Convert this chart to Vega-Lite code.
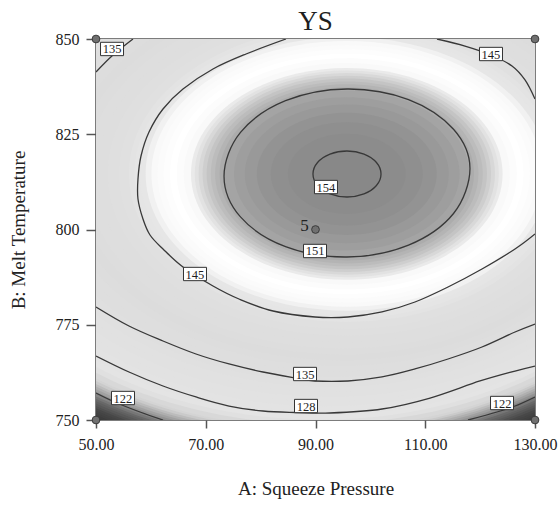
{
  "$schema": "https://vega.github.io/schema/vega-lite/v6.json",
  "width": 439,
  "height": 381,
  "autosize": {"type": "none"},
  "padding": {"left": 96, "top": 39, "right": 23, "bottom": 88},
  "background": "white",
  "config": {"view": {"stroke": "#7c7c7c", "strokeWidth": 2}, "font": "Liberation Serif"},
  "datasets": {
    "rings": [
      {"a": 90.3, "b": 814.6, "ys": 106},
      {"a": 90.3, "b": 814.6, "ys": 112},
      {"a": 90.3, "b": 814.6, "ys": 114},
      {"a": 90.3, "b": 814.6, "ys": 115},
      {"a": 90.3, "b": 814.6, "ys": 115.5},
      {"a": 90.3, "b": 814.6, "ys": 116},
      {"a": 90.3, "b": 814.6, "ys": 116.5},
      {"a": 90.3, "b": 814.6, "ys": 117},
      {"a": 90.3, "b": 814.6, "ys": 117.5},
      {"a": 90.3, "b": 814.6, "ys": 118},
      {"a": 90.3, "b": 814.6, "ys": 118.5},
      {"a": 90.3, "b": 814.6, "ys": 119},
      {"a": 90.3, "b": 814.6, "ys": 119.5},
      {"a": 90.3, "b": 814.6, "ys": 120},
      {"a": 90.3, "b": 814.6, "ys": 120.5},
      {"a": 90.3, "b": 814.6, "ys": 121},
      {"a": 90.3, "b": 814.6, "ys": 121.5},
      {"a": 90.3, "b": 814.6, "ys": 122},
      {"a": 90.4, "b": 814.6, "ys": 122.5},
      {"a": 90.4, "b": 814.6, "ys": 123},
      {"a": 90.5, "b": 814.6, "ys": 123.5},
      {"a": 90.5, "b": 814.6, "ys": 124},
      {"a": 90.6, "b": 814.6, "ys": 125},
      {"a": 90.8, "b": 814.6, "ys": 126},
      {"a": 91.0, "b": 814.6, "ys": 127},
      {"a": 91.2, "b": 814.6, "ys": 128},
      {"a": 91.5, "b": 814.6, "ys": 129},
      {"a": 91.9, "b": 814.6, "ys": 130},
      {"a": 92.2, "b": 814.6, "ys": 131},
      {"a": 92.6, "b": 814.6, "ys": 132},
      {"a": 92.9, "b": 814.6, "ys": 133},
      {"a": 93.2, "b": 814.6, "ys": 134},
      {"a": 93.5, "b": 814.6, "ys": 135},
      {"a": 93.8, "b": 814.6, "ys": 136},
      {"a": 94.2, "b": 814.6, "ys": 137},
      {"a": 94.5, "b": 814.6, "ys": 138},
      {"a": 94.8, "b": 814.6, "ys": 139},
      {"a": 95.0, "b": 814.6, "ys": 140},
      {"a": 95.3, "b": 814.6, "ys": 141},
      {"a": 95.5, "b": 814.6, "ys": 142},
      {"a": 95.7, "b": 814.6, "ys": 143},
      {"a": 95.7, "b": 814.6, "ys": 144},
      {"a": 95.7, "b": 814.6, "ys": 144.5},
      {"a": 95.7, "b": 814.6, "ys": 145},
      {"a": 95.7, "b": 814.6, "ys": 145.5},
      {"a": 95.7, "b": 814.6, "ys": 146},
      {"a": 95.7, "b": 814.6, "ys": 146.5},
      {"a": 95.7, "b": 814.6, "ys": 147},
      {"a": 95.7, "b": 814.6, "ys": 147.5},
      {"a": 95.7, "b": 814.6, "ys": 148},
      {"a": 95.7, "b": 814.6, "ys": 148.5},
      {"a": 95.7, "b": 814.6, "ys": 149},
      {"a": 95.7, "b": 814.6, "ys": 149.25},
      {"a": 95.7, "b": 814.6, "ys": 149.5},
      {"a": 95.7, "b": 814.6, "ys": 149.75},
      {"a": 95.7, "b": 814.6, "ys": 150},
      {"a": 95.7, "b": 814.6, "ys": 150.25},
      {"a": 95.7, "b": 814.6, "ys": 150.5},
      {"a": 95.7, "b": 814.6, "ys": 150.75},
      {"a": 95.7, "b": 814.6, "ys": 151},
      {"a": 95.7, "b": 814.6, "ys": 151.5},
      {"a": 95.7, "b": 814.6, "ys": 152},
      {"a": 95.7, "b": 814.6, "ys": 152.5},
      {"a": 95.7, "b": 814.6, "ys": 153},
      {"a": 95.7, "b": 814.6, "ys": 153.5},
      {"a": 95.7, "b": 814.6, "ys": 154}
    ],
    "closedContours": [
      {"c": "154", "i": 0, "a": 101.94, "b": 814.57},
      {"c": "154", "i": 1, "a": 101.11, "b": 817.59},
      {"c": "154", "i": 2, "a": 98.84, "b": 819.8},
      {"c": "154", "i": 3, "a": 95.74, "b": 820.61},
      {"c": "154", "i": 4, "a": 92.64, "b": 819.8},
      {"c": "154", "i": 5, "a": 90.37, "b": 817.59},
      {"c": "154", "i": 6, "a": 89.54, "b": 814.57},
      {"c": "154", "i": 7, "a": 90.37, "b": 811.55},
      {"c": "154", "i": 8, "a": 92.64, "b": 809.34},
      {"c": "154", "i": 9, "a": 95.74, "b": 808.53},
      {"c": "154", "i": 10, "a": 98.84, "b": 809.34},
      {"c": "154", "i": 11, "a": 101.11, "b": 811.55},
      {"c": "151", "i": 0, "a": 118.15, "b": 816.0},
      {"c": "151", "i": 1, "a": 115.15, "b": 826.3},
      {"c": "151", "i": 2, "a": 106.95, "b": 834.1},
      {"c": "151", "i": 3, "a": 95.74, "b": 836.88},
      {"c": "151", "i": 4, "a": 84.54, "b": 833.8},
      {"c": "151", "i": 5, "a": 76.33, "b": 825.5},
      {"c": "151", "i": 6, "a": 73.33, "b": 814.0},
      {"c": "151", "i": 7, "a": 76.33, "b": 803.3},
      {"c": "151", "i": 8, "a": 84.54, "b": 795.5},
      {"c": "151", "i": 9, "a": 95.74, "b": 792.78},
      {"c": "151", "i": 10, "a": 106.95, "b": 795.9},
      {"c": "151", "i": 11, "a": 115.15, "b": 804.2}
    ],
    "openContours": [
      {"c": "145a", "i": 0, "a": 84.62, "b": 850},
      {"c": "145a", "i": 1, "a": 77.34, "b": 846.06},
      {"c": "145a", "i": 2, "a": 71.32, "b": 842.13},
      {"c": "145a", "i": 3, "a": 65.85, "b": 836.88},
      {"c": "145a", "i": 4, "a": 62.21, "b": 831.63},
      {"c": "145a", "i": 5, "a": 59.66, "b": 825.59},
      {"c": "145a", "i": 6, "a": 58.2, "b": 819.29},
      {"c": "145a", "i": 7, "a": 57.65, "b": 813.25},
      {"c": "145a", "i": 8, "a": 57.65, "b": 808.0},
      {"c": "145a", "i": 9, "a": 58.56, "b": 802.76},
      {"c": "145a", "i": 10, "a": 59.84, "b": 798.56},
      {"c": "145a", "i": 11, "a": 62.21, "b": 794.88},
      {"c": "145a", "i": 12, "a": 65.85, "b": 790.16},
      {"c": "145a", "i": 13, "a": 71.32, "b": 785.17},
      {"c": "145a", "i": 14, "a": 76.06, "b": 781.76},
      {"c": "145a", "i": 15, "a": 82.26, "b": 778.61},
      {"c": "145a", "i": 16, "a": 89.91, "b": 777.03},
      {"c": "145a", "i": 17, "a": 95.92, "b": 777.03},
      {"c": "145a", "i": 18, "a": 102.12, "b": 778.35},
      {"c": "145a", "i": 19, "a": 108.13, "b": 780.97},
      {"c": "145a", "i": 20, "a": 114.15, "b": 784.91},
      {"c": "145a", "i": 21, "a": 120.34, "b": 789.63},
      {"c": "145a", "i": 22, "a": 126.36, "b": 794.88},
      {"c": "145a", "i": 23, "a": 130, "b": 798.82},
      {"c": "145b", "i": 0, "a": 112.14, "b": 850},
      {"c": "145b", "i": 1, "a": 117.24, "b": 848.16},
      {"c": "145b", "i": 2, "a": 121.98, "b": 845.8},
      {"c": "145b", "i": 3, "a": 125.81, "b": 842.91},
      {"c": "145b", "i": 4, "a": 128.18, "b": 839.24},
      {"c": "145b", "i": 5, "a": 130, "b": 834.25},
      {"c": "135a", "i": 0, "a": 50, "b": 779.66},
      {"c": "135a", "i": 1, "a": 56.01, "b": 774.67},
      {"c": "135a", "i": 2, "a": 62.21, "b": 770.73},
      {"c": "135a", "i": 3, "a": 68.22, "b": 767.32},
      {"c": "135a", "i": 4, "a": 74.24, "b": 764.7},
      {"c": "135a", "i": 5, "a": 80.43, "b": 762.6},
      {"c": "135a", "i": 6, "a": 86.45, "b": 761.02},
      {"c": "135a", "i": 7, "a": 89.91, "b": 760.24},
      {"c": "135a", "i": 8, "a": 95.92, "b": 760.24},
      {"c": "135a", "i": 9, "a": 102.12, "b": 761.29},
      {"c": "135a", "i": 10, "a": 108.13, "b": 763.39},
      {"c": "135a", "i": 11, "a": 114.15, "b": 766.01},
      {"c": "135a", "i": 12, "a": 120.34, "b": 769.16},
      {"c": "135a", "i": 13, "a": 126.36, "b": 773.1},
      {"c": "135a", "i": 14, "a": 130, "b": 775.2},
      {"c": "135b", "i": 0, "a": 50, "b": 841.34},
      {"c": "135b", "i": 1, "a": 53.1, "b": 845.8},
      {"c": "135b", "i": 2, "a": 56.74, "b": 850},
      {"c": "128", "i": 0, "a": 50, "b": 766.8},
      {"c": "128", "i": 1, "a": 56.01, "b": 762.6},
      {"c": "128", "i": 2, "a": 62.21, "b": 758.92},
      {"c": "128", "i": 3, "a": 68.22, "b": 756.04},
      {"c": "128", "i": 4, "a": 74.24, "b": 753.67},
      {"c": "128", "i": 5, "a": 80.43, "b": 752.36},
      {"c": "128", "i": 6, "a": 86.45, "b": 751.97},
      {"c": "128", "i": 7, "a": 92.64, "b": 751.84},
      {"c": "128", "i": 8, "a": 102.12, "b": 752.89},
      {"c": "128", "i": 9, "a": 110.87, "b": 755.77},
      {"c": "128", "i": 10, "a": 119.98, "b": 760.24},
      {"c": "128", "i": 11, "a": 126.36, "b": 762.86},
      {"c": "128", "i": 12, "a": 130, "b": 764.17},
      {"c": "122a", "i": 0, "a": 50, "b": 757.09},
      {"c": "122a", "i": 1, "a": 53.83, "b": 754.46},
      {"c": "122a", "i": 2, "a": 58.02, "b": 752.1},
      {"c": "122a", "i": 3, "a": 62.21, "b": 750},
      {"c": "122b", "i": 0, "a": 117.79, "b": 750},
      {"c": "122b", "i": 1, "a": 123.08, "b": 752.1},
      {"c": "122b", "i": 2, "a": 126.36, "b": 753.67},
      {"c": "122b", "i": 3, "a": 130, "b": 756.04}
    ],
    "labels": [
      {"a": 52.92, "b": 847.38, "t": "135"},
      {"a": 121.98, "b": 846.06, "t": "145"},
      {"a": 91.91, "b": 811.15, "t": "154"},
      {"a": 89.91, "b": 794.36, "t": "151"},
      {"a": 68.04, "b": 788.32, "t": "145"},
      {"a": 88.09, "b": 762.07, "t": "135"},
      {"a": 88.27, "b": 753.67, "t": "128"},
      {"a": 54.92, "b": 755.77, "t": "122"},
      {"a": 123.99, "b": 754.46, "t": "122"}
    ],
    "runs": [
      {"a": 50, "b": 850, "n": 1},
      {"a": 130, "b": 850, "n": 1},
      {"a": 50, "b": 750, "n": 1},
      {"a": 130, "b": 750, "n": 1},
      {"a": 90, "b": 800, "n": 5}
    ],
    "heading": [
      {"a": 90, "b": 850, "t": "YS"}
    ]
  },
  "encoding": {
    "x": {
      "field": "a", "type": "quantitative",
      "scale": {"domain": [50, 130], "nice": false, "zero": false},
      "axis": {
        "title": "A: Squeeze Pressure", "values": [50, 70, 90, 110, 130], "format": ".2f",
        "grid": false, "domain": false, "tickSize": 8, "tickWidth": 1.5, "tickColor": "#555555",
        "labelFont": "Liberation Serif", "labelFontSize": 16, "labelColor": "#222222", "labelPadding": 8,
        "labelFlush": false, "labelOverlap": false,
        "titleFont": "Liberation Serif", "titleFontSize": 19, "titleFontWeight": "normal", "titleColor": "#222222", "titlePadding": 27
      }
    },
    "y": {
      "field": "b", "type": "quantitative",
      "scale": {"domain": [750, 850], "nice": false, "zero": false},
      "axis": {
        "title": "B: Melt Temperature", "values": [750, 775, 800, 825, 850], "format": "d",
        "grid": false, "domain": false, "tickSize": 10, "tickWidth": 1.5, "tickColor": "#555555",
        "labelFont": "Liberation Serif", "labelFontSize": 16, "labelColor": "#222222", "labelPadding": 7,
        "labelFlush": false, "labelOverlap": false,
        "titleFont": "Liberation Serif", "titleFontSize": 19, "titleFontWeight": "normal", "titleColor": "#222222", "titlePadding": 27
      }
    }
  },
  "layer": [
    {
      "data": {"name": "rings"},
      "mark": {
        "type": "point",
        "shape": "M1,0C1,0.3756,0.5523,0.68,0,0.68C-0.5523,0.68,-1,0.3756,-1,0C-1,-0.3756,-0.5523,-0.68,0,-0.68C0.5523,-0.68,1,-0.3756,1,0Z",
        "filled": true, "opacity": 1, "strokeWidth": 0, "clip": true
      },
      "encoding": {
        "size": {"field": "ys", "type": "quantitative", "legend": null,
          "scale": {"type": "linear", "domain": [154.25, 100], "range": [0, 1003408], "zero": false, "nice": false}},
        "color": {"field": "ys", "type": "quantitative", "legend": null,
          "scale": {
            "domain": [100, 115, 117.5, 119.5, 121.3, 123.3, 125.5, 130, 138, 143, 145, 145.8, 147.5, 148.6, 149.3, 150, 151, 152.5, 154.3],
            "range": ["#2e2e2e", "#363636", "#484848", "#686868", "#9c9c9c", "#d2d2d2", "#e4e4e4", "#e2e2e2", "#dcdcdc", "#e0e0e0", "#e6e6e6", "#f8f8f8", "#ffffff", "#f8f8f8", "#e0e0e0", "#c4c4c4", "#a4a4a4", "#939393", "#868686"],
            "interpolate": "rgb"
          }},
        "order": {"field": "ys", "sort": "ascending"}
      }
    },
    {
      "data": {"name": "closedContours"},
      "mark": {"type": "line", "interpolate": "cardinal-closed", "color": "#383838", "strokeWidth": 1.3, "clip": true},
      "encoding": {"detail": {"field": "c"}, "order": {"field": "i"}}
    },
    {
      "data": {"name": "openContours"},
      "mark": {"type": "line", "interpolate": "cardinal", "color": "#383838", "strokeWidth": 1.3, "clip": true},
      "encoding": {"detail": {"field": "c"}, "order": {"field": "i"}}
    },
    {
      "data": {"name": "labels"},
      "mark": {"type": "point", "shape": "M-1,-0.58L1,-0.58L1,0.58L-1,0.58Z", "size": 529,
        "filled": true, "fill": "white", "stroke": "#333333", "strokeWidth": 1, "opacity": 1},
      "encoding": {}
    },
    {
      "data": {"name": "labels"},
      "mark": {"type": "text", "font": "Liberation Serif", "fontSize": 12.5, "color": "#1e1e1e", "align": "center", "baseline": "middle", "dy": 0.5},
      "encoding": {"text": {"field": "t"}}
    },
    {
      "data": {"name": "runs"},
      "mark": {"type": "point", "filled": true, "fill": "#707070", "stroke": "#3a3a3a", "strokeWidth": 1, "size": 60, "opacity": 1},
      "encoding": {}
    },
    {
      "data": {"name": "runs"},
      "transform": [{"filter": "datum.n > 1"}],
      "mark": {"type": "text", "font": "Liberation Serif", "fontSize": 17, "color": "#222222", "align": "center", "baseline": "middle", "dx": -11, "dy": -4},
      "encoding": {"text": {"field": "n"}}
    },
    {
      "data": {"name": "heading"},
      "mark": {"type": "text", "font": "Liberation Serif", "fontSize": 27, "color": "#1e1e1e", "align": "center", "baseline": "alphabetic", "dy": -9},
      "encoding": {"text": {"field": "t"}}
    }
  ]
}
